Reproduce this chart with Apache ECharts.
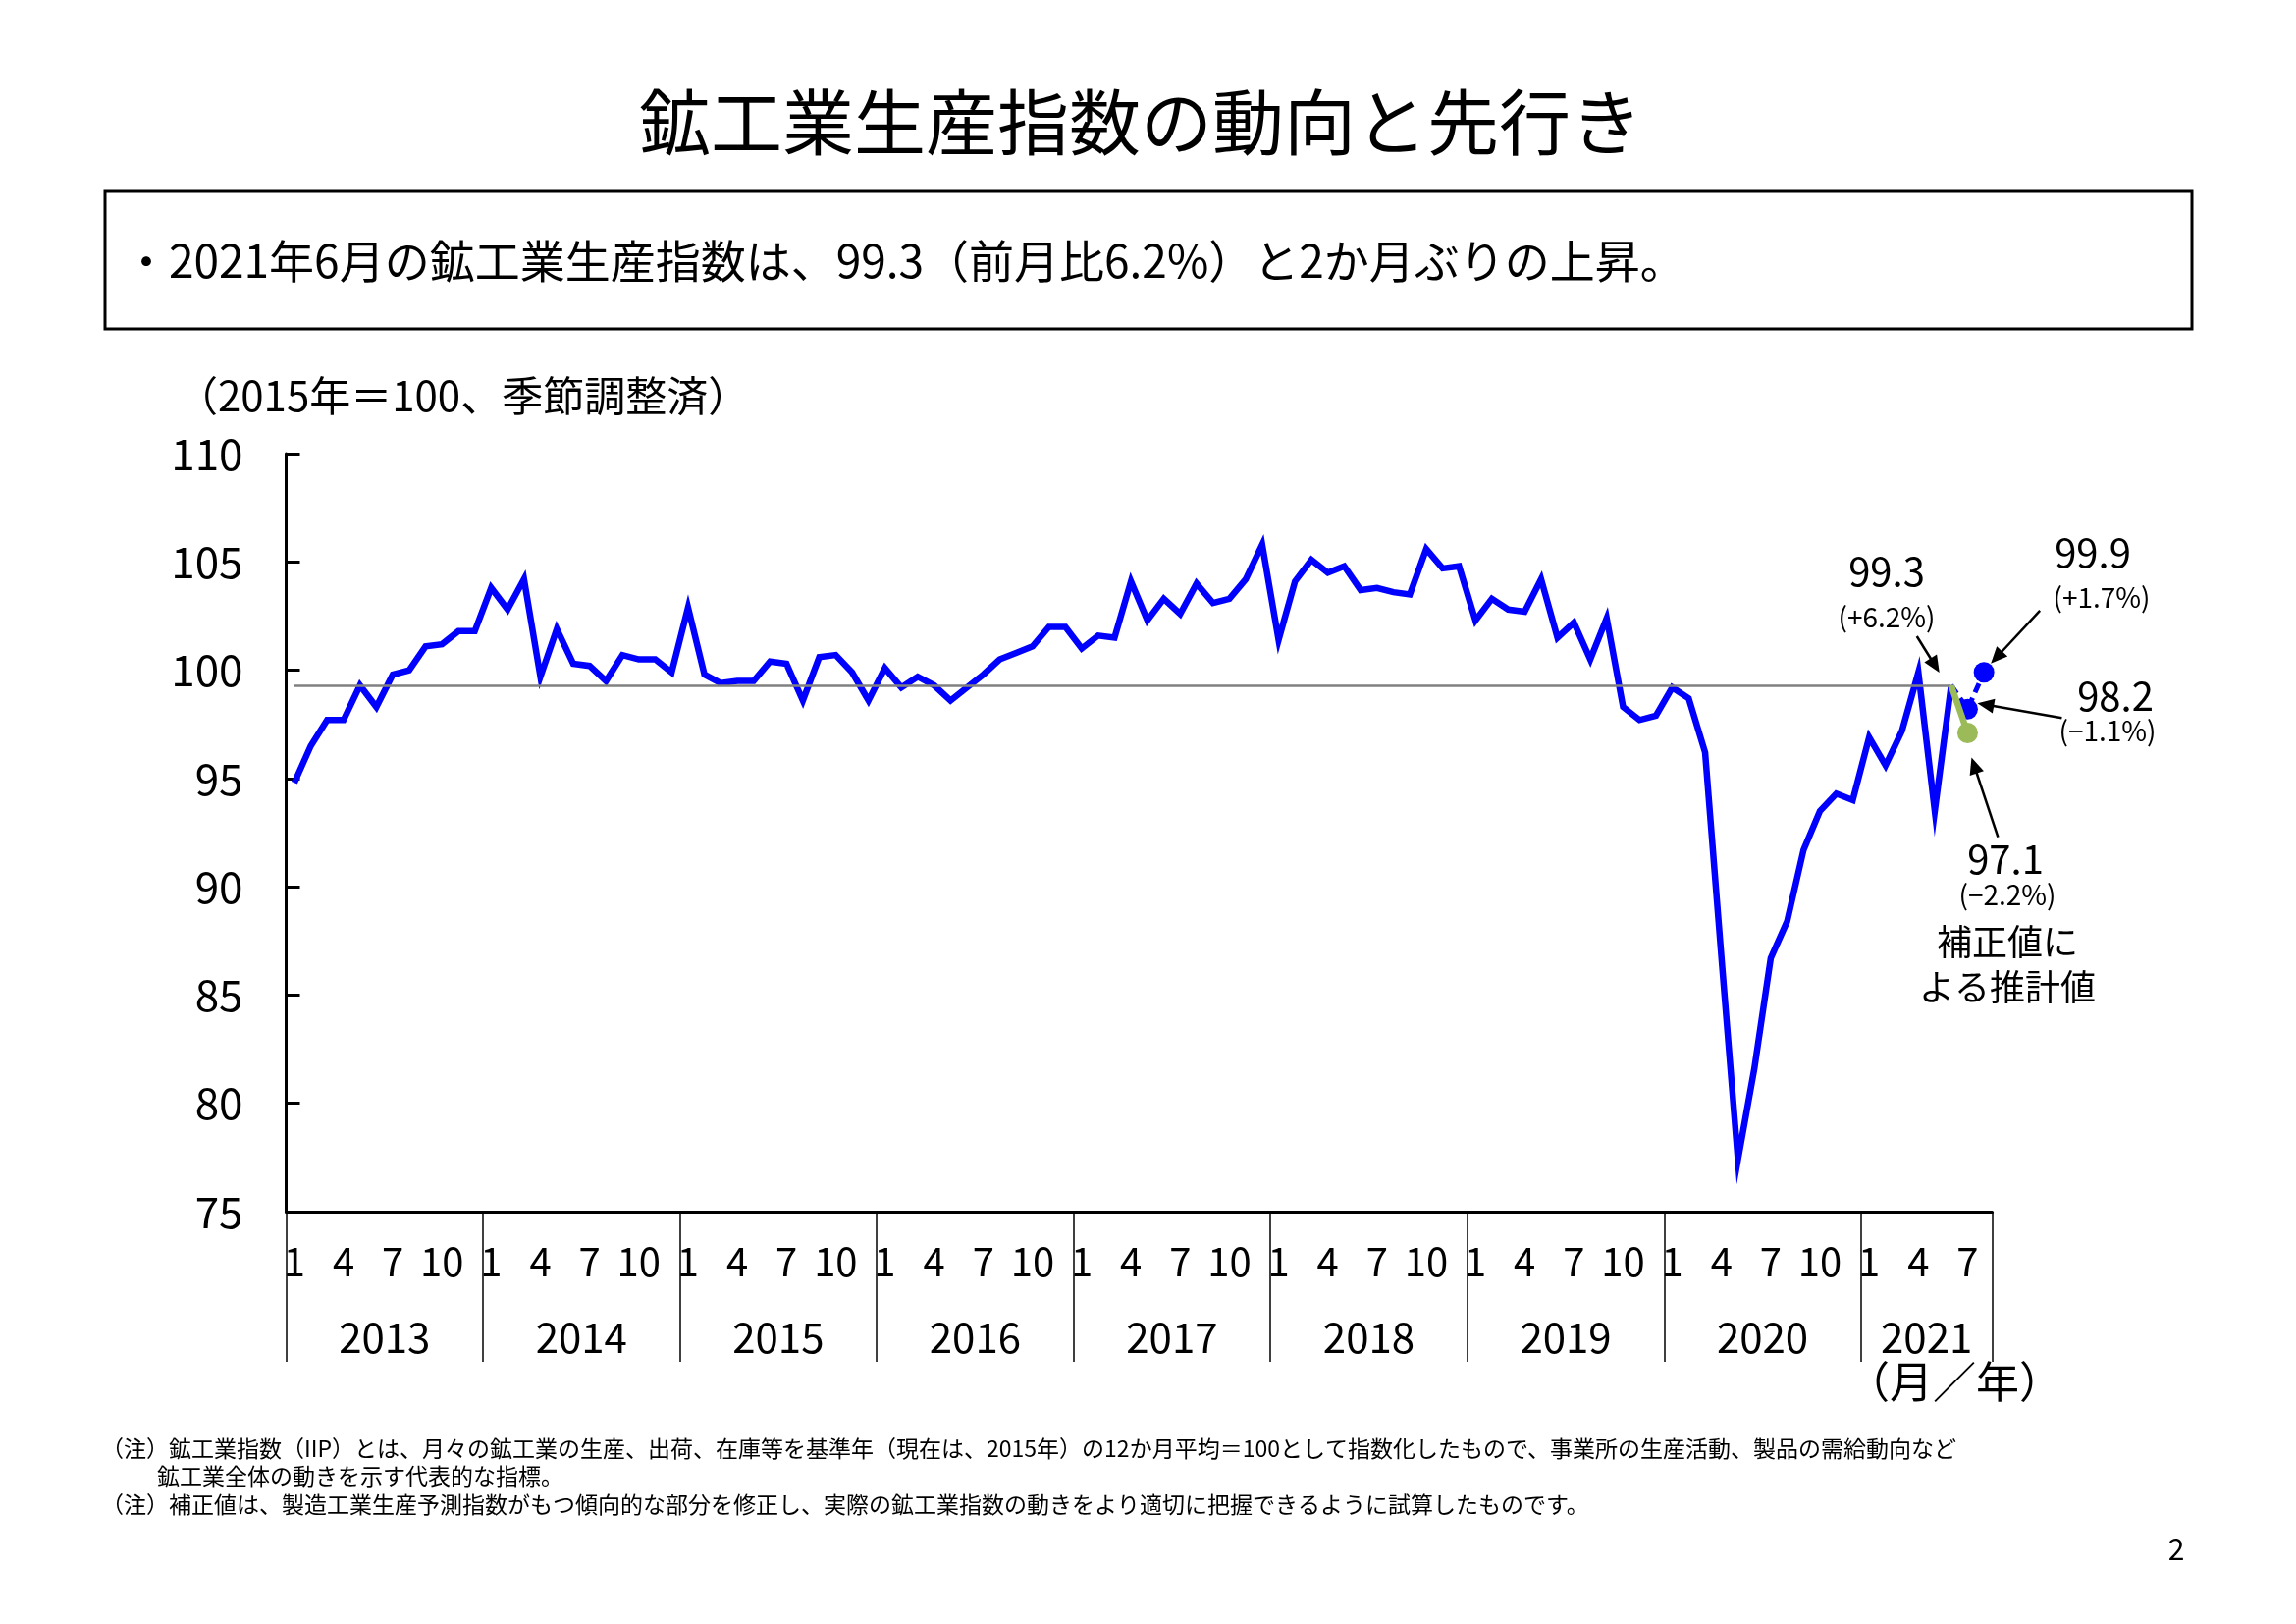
<!DOCTYPE html>
<html>
<head>
<meta charset="utf-8">
<script src="https://cdn.jsdelivr.net/npm/echarts@6/dist/echarts.min.js"></script>
<style>
html,body{margin:0;padding:0;background:#fff;}
#chart{width:2339px;height:1654px;}
</style>
</head>
<body>
<div id="chart"></div>
<script>
// ---- data ----
const years = ['2013','2014','2015','2016','2017','2018','2019','2020','2021'];
const monthsShown = [12,12,12,12,12,12,12,12,8];   // 2021: Jan–Aug (Jul, Aug are forecasts)
const monthTickLabels = ['1','4','7','10'];

// 鉱工業生産指数 (2015=100, seasonally adjusted), Jan 2013 – Jun 2021
const iip2013 = [94.8, 96.5, 97.7, 97.7, 99.3, 98.3, 99.8, 100.0, 101.1, 101.2, 101.8, 101.8];
const iip2014 = [103.8, 102.8, 104.2, 99.7, 101.9, 100.3, 100.2, 99.5, 100.7, 100.5, 100.5, 99.9];
const iip2015 = [102.9, 99.8, 99.4, 99.5, 99.5, 100.4, 100.3, 98.6, 100.6, 100.7, 99.9, 98.6];
const iip2016 = [100.1, 99.2, 99.7, 99.3, 98.6, 99.2, 99.8, 100.5, 100.8, 101.1, 102.0, 102.0];
const iip2017 = [101.0, 101.6, 101.5, 104.1, 102.3, 103.3, 102.6, 104.0, 103.1, 103.3, 104.2, 105.8];
const iip2018 = [101.4, 104.1, 105.1, 104.5, 104.8, 103.7, 103.8, 103.6, 103.5, 105.6, 104.7, 104.8];
const iip2019 = [102.3, 103.3, 102.8, 102.7, 104.2, 101.5, 102.2, 100.5, 102.4, 98.3, 97.7, 97.9];
const iip2020 = [99.2, 98.7, 96.2, 86.7, 77.4, 81.6, 86.7, 88.4, 91.7, 93.5, 94.3, 94.0];
const iip2021 = [96.9, 95.6, 97.2, 99.9, 93.5, 99.3];
const latestChange = '+6.2%';

// 製造工業生産予測指数による先行き (Jul, Aug 2021)
const forecastValues = [98.2, 99.9];
const forecastChanges = ['−1.1%', '+1.7%'];
// 補正値による推計値 (Jul 2021)
const correctedValues = [97.1];
const correctedChanges = ['−2.2%'];

// ---- build ----
const categories = [];
years.forEach((y, yi) => { for (let m = 1; m <= monthsShown[yi]; m++) categories.push(y + '/' + m); });
const N = categories.length;
const actual = [].concat(iip2013, iip2014, iip2015, iip2016, iip2017, iip2018, iip2019, iip2020, iip2021);
const lastIdx = actual.length - 1;
const latestValue = actual[lastIdx];

const mainData = categories.map((c, i) => i <= lastIdx ? actual[i] : null);
const forecastData = categories.map((c, i) => {
  if (i === lastIdx) return { value: latestValue, symbol: 'none' };
  if (i > lastIdx) { const v = forecastValues[i - lastIdx - 1]; return v === undefined ? null : v; }
  return null;
});
const correctedData = categories.map((c, i) => {
  if (i === lastIdx) return { value: latestValue, symbol: 'none' };
  if (i > lastIdx) { const v = correctedValues[i - lastIdx - 1]; return v === undefined ? null : v; }
  return null;
});

// year separators and year-label centres on a helper value axis
const yearStarts = [];
const yearCenters = [];
let acc = 0;
monthsShown.forEach(n => { yearStarts.push(acc); yearCenters.push(acc + n / 2); acc += n; });
yearStarts.push(acc);

const FONT = "'Noto Sans CJK JP', 'Noto Sans', sans-serif";

const chart = echarts.init(document.getElementById('chart'), null, { renderer: 'canvas' });
const option = {
  animation: false,
  backgroundColor: '#ffffff',
  textStyle: { fontFamily: FONT, color: '#000' },
  grid: { left: 291.5, right: 309.5, top: 462, bottom: 420, containLabel: false },
  xAxis: [
    {
      type: 'category', data: categories, boundaryGap: true, position: 'bottom',
      axisLine: { show: true, lineStyle: { color: '#000', width: 3 } },
      axisTick: { show: false },
      axisLabel: {
        interval: (idx) => idx % 3 === 0,
        formatter: (val) => monthTickLabels[(parseInt(val.split('/')[1], 10) - 1) / 3],
        fontSize: 40, color: '#000', margin: 31, fontFamily: FONT
      },
      splitLine: { show: false }
    },
    {
      type: 'value', min: 0, max: N, position: 'bottom',
      axisLine: { show: false },
      splitLine: { show: false },
      axisTick: { show: true, customValues: yearStarts, length: 153, inside: false,
        lineStyle: { color: '#000', width: 1.5 } },
      axisLabel: { show: true, customValues: yearCenters,
        formatter: (v) => years[yearCenters.indexOf(v)],
        fontSize: 42, color: '#000', margin: 107, fontFamily: FONT }
    }
  ],
  yAxis: {
    type: 'value', min: 75, max: 110, interval: 5,
    axisLine: { show: true, lineStyle: { color: '#000', width: 3 } },
    axisTick: { show: true, inside: true, length: 14, lineStyle: { color: '#000', width: 3 } },
    axisLabel: { fontSize: 44, color: '#000', margin: 44, fontFamily: FONT },
    splitLine: { show: false }
  },
  series: [
    {
      name: '鉱工業生産指数', type: 'line', data: mainData, xAxisIndex: 0, yAxisIndex: 0,
      showSymbol: false, symbol: 'none',
      lineStyle: { color: '#0000FF', width: 6.5, join: 'miter' },
      markLine: {
        silent: true, symbol: ['none', 'none'], label: { show: false },
        lineStyle: { color: '#808080', width: 2.5, type: 'solid' },
        data: [[{ coord: [categories[0], latestValue] }, { coord: [categories[lastIdx], latestValue] }]]
      },
      z: 3
    },
    {
      name: '予測', type: 'line', data: forecastData, xAxisIndex: 0, yAxisIndex: 0,
      symbol: 'circle', symbolSize: 21, showSymbol: true, showAllSymbol: true,
      connectNulls: false, clip: false,
      itemStyle: { color: '#0000FF' },
      lineStyle: { color: '#0000FF', width: 5, type: [10, 6] },
      z: 4
    },
    {
      name: '補正値', type: 'line', data: correctedData, xAxisIndex: 0, yAxisIndex: 0,
      symbol: 'circle', symbolSize: 21, showSymbol: true, showAllSymbol: true, clip: false,
      itemStyle: { color: '#9BBB59' },
      lineStyle: { color: '#9BBB59', width: 6.5 },
      z: 5
    }
  ]
};
chart.setOption(option);

// ---- annotations ----
function px(i, v) { return chart.convertToPixel({ xAxisIndex: 0, yAxisIndex: 0 }, [i, v]); }
function arrow(sx, sy, tx, ty, els) {
  const dx = tx - sx, dy = ty - sy, L = Math.sqrt(dx * dx + dy * dy);
  const ux = dx / L, uy = dy / L, hl = 17, hw = 7.5;
  const bx = tx - ux * hl, by = ty - uy * hl;
  els.push({ type: 'line', silent: true, z: 20,
    shape: { x1: sx, y1: sy, x2: bx + ux * 2, y2: by + uy * 2 },
    style: { stroke: '#000', lineWidth: 2.5 } });
  els.push({ type: 'polygon', silent: true, z: 20,
    shape: { points: [[tx, ty], [bx - uy * hw, by + ux * hw], [bx + uy * hw, by - ux * hw]] },
    style: { fill: '#000' } });
}
function txt(x, y, s, size, align, els, extra) {
  els.push(Object.assign({ type: 'text', silent: true, x: x, y: y, z: 30,
    style: { text: s, fontSize: size, fontFamily: FONT, fill: '#000',
      align: align || 'center', verticalAlign: 'middle' } }, extra || {}));
}

const els = [];
// title & summary box
txt(1162, 124, '鉱工業生産指数の動向と先行き', 73, 'center', els);
els.push({ type: 'rect', silent: true, z: 10,
  shape: { x: 107, y: 195, width: 2126, height: 140 },
  style: { fill: 'none', stroke: '#000', lineWidth: 3 } });
txt(126, 266, '・' + '2021年6月の鉱工業生産指数は、' + latestValue.toFixed(1) + '（前月比' + latestChange.replace('+', '') + '）と2か月ぶりの上昇。', 46, 'left', els);
txt(180, 403, '（2015年＝100、季節調整済）', 42, 'left', els);
txt(1991, 1407, '（月／年）', 44, 'center', els);

// value labels
const pLatest = px(lastIdx, latestValue);
const pF1 = px(lastIdx + 1, forecastValues[0]);
const pF2 = px(lastIdx + 2, forecastValues[1]);
const pC1 = px(lastIdx + 1, correctedValues[0]);

txt(1922, 582, latestValue.toFixed(1), 40, 'center', els);
txt(1922, 628, '(' + latestChange + ')', 28, 'center', els);
arrow(pLatest[0] - 35, pLatest[1] - 50, pLatest[0] - 12, pLatest[1] - 13, els);

txt(2132, 563, forecastValues[1].toFixed(1), 40, 'center', els);
txt(2141, 608, '(' + forecastChanges[1] + ')', 28, 'center', els);
arrow(pF2[0] + 57, pF2[1] - 63, pF2[0] + 7, pF2[1] - 9, els);

txt(2155, 709, forecastValues[0].toFixed(1), 40, 'center', els);
txt(2147, 744, '(' + forecastChanges[0] + ')', 28, 'center', els);
arrow(pF1[0] + 96, pF1[1] + 9, pF1[0] + 10, pF1[1] - 6, els);

txt(2043, 875, correctedValues[0].toFixed(1), 40, 'center', els);
txt(2045, 911, '(' + correctedChanges[0] + ')', 28, 'center', els);
txt(2045, 959, '補正値に', 36, 'center', els);
txt(2045, 1005, 'よる推計値', 36, 'center', els);
arrow(pC1[0] + 31, pC1[1] + 106, pC1[0] + 4, pC1[1] + 25, els);

// footnotes
txt(103, 1475, '（注）鉱工業指数（IIP）とは、月々の鉱工業の生産、出荷、在庫等を基準年（現在は、2015年）の12か月平均＝100として指数化したもので、事業所の生産活動、製品の需給動向など', 23, 'left', els);
txt(160, 1503, '鉱工業全体の動きを示す代表的な指標。', 23, 'left', els);
txt(103, 1532, '（注）補正値は、製造工業生産予測指数がもつ傾向的な部分を修正し、実際の鉱工業指数の動きをより適切に把握できるように試算したものです。', 23, 'left', els);
txt(2217, 1578, '2', 30, 'center', els);

chart.setOption({ graphic: { elements: els } });
</script>
</body>
</html>
